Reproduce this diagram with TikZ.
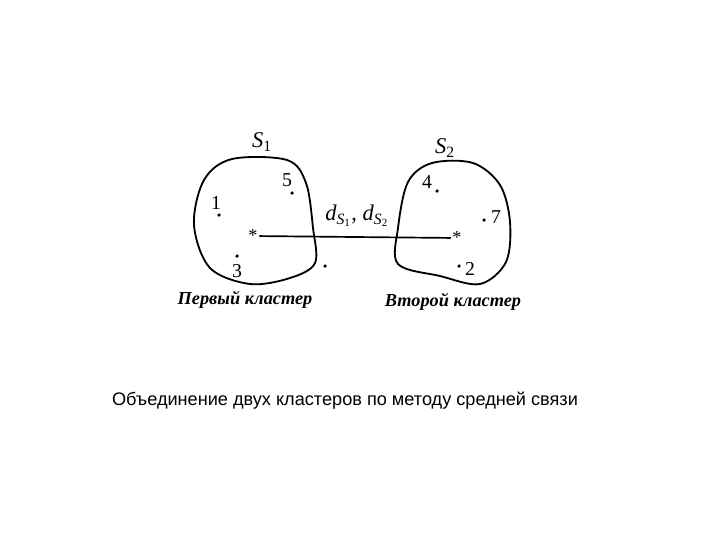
\documentclass[tikz,border=0pt]{standalone}
\usepackage{fontspec}
\setmainfont{Liberation Serif}
\newfontfamily\captionfont{Liberation Sans}
\usetikzlibrary{positioning}
\usetikzlibrary{calc}

\newcommand{\csub}[2]{\textit{#1}\textsubscript{#2}}

\begin{document}
\begin{tikzpicture}[x=0.025cm,y=-0.025cm]
    \useasboundingbox (0,0) rectangle (720,540);
    % clusters
    \draw[line width=1.3pt] plot[smooth cycle,tension=0.55] coordinates
        {(232,159) (287,160) (306,183) (313,228) (315,263) (290,278) (250,284) (210,268) (194,225) (204,180)};
    \draw[line width=1.3pt] plot[smooth cycle,tension=0.55] coordinates
        {(432,163) (473,163) (500,185) (510,222) (506,262) (480,284) (440,276) (398,264) (398,228) (408,182)};
    \begin{scope}[every node/.style={font=\fontsize{14}{14}\selectfont}]
    \node (s1) at (262,142) {\fontsize{16}{16}\selectfont\csub{S}{1}};
    \node (s2) at (445,148) {\fontsize{16}{16}\selectfont\csub{S}{2}};
    \node (l5) at (287,180) {5};
    \node (l1) at (216,203) {1};
    \node (l3) at (237,271) {3};
    \node (l4) at (427,182) {4};
    \node (l7) at (496,217) {7};
    \node (l2) at (470,269) {2};
    \node (d) at (357,216) {\fontsize{16}{16}\selectfont\csub{d}{\textit{S}\textsubscript{1}}, \csub{d}{\textit{S}\textsubscript{2}}};
    \end{scope}
    \begin{scope}[every node/.style={circle,fill=black,inner sep=0pt,minimum size=2.5pt}]
    \node (p5) at (292,193) {};
    \node (p1) at (219,215) {};
    \node (p3) at (237,256) {};
    \node (p4) at (437,191) {};
    \node (p7) at (484,220) {};
    \node (p2) at (459,266) {};
    \node (px) at (325,266) {};
    \end{scope}
    \begin{scope}[every node/.style={inner sep=1pt,font=\fontsize{13}{13}\selectfont}]
    \node (c1) at (253,236) {*};
    \node (c2) at (457,238) {*};
    \end{scope}
    \begin{scope}[every edge/.style={draw=black,line width=1.2pt}]
    \path (c1) edge (c2);
    \end{scope}
    \begin{scope}[every node/.style={font=\fontsize{13}{13}\bfseries\itshape}]
    \node (k1) at (245,300) {Первый кластер};
    \node (k2) at (453,302) {Второй кластер};
    \end{scope}
    \node[font=\captionfont\fontsize{12.9}{12.9}\selectfont] (cap) at (345,401) {Объединение двух кластеров по методу средней связи};
\end{tikzpicture}
\end{document}
